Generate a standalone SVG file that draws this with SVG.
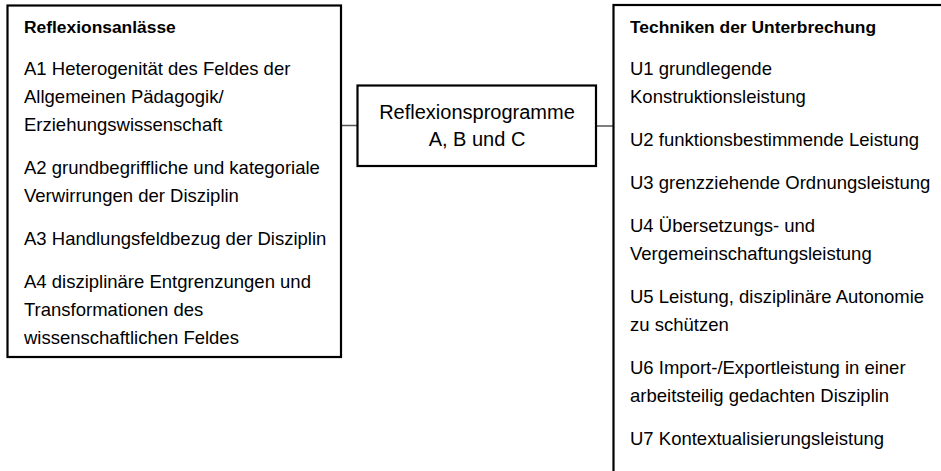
<svg xmlns="http://www.w3.org/2000/svg" width="941" height="471" viewBox="0 0 941 471">
<style>
.box{fill:#fff;stroke:#000;stroke-width:2.2}
.t{font-family:"Liberation Sans",Arial,sans-serif;font-size:18.5px;fill:#000}
.b{font-family:"Liberation Sans",Arial,sans-serif;font-size:17.4px;font-weight:bold;fill:#000}
.m{font-family:"Liberation Sans",Arial,sans-serif;font-size:20px;fill:#000;text-anchor:middle}
.c{stroke:#555;stroke-width:1.5;fill:none}
</style>
<rect width="941" height="471" fill="#fff"/>
<g id="connectors">
<line class="c" x1="341" y1="125.5" x2="357" y2="125.5"/>
<line class="c" x1="596" y1="126" x2="613" y2="126"/>
</g>
<g id="reflexionsanlaesse">
<rect class="box" x="7.5" y="5.5" width="333.5" height="351.5"/>
<text class="b" x="24" y="33">Reflexionsanlässe</text>
<text class="t" x="24" y="75">A1 Heterogenität des Feldes der</text>
<text class="t" x="24" y="103">Allgemeinen Pädagogik/</text>
<text class="t" x="24" y="131">Erziehungswissenschaft</text>
<text class="t" x="24" y="174">A2 grundbegriffliche und kategoriale</text>
<text class="t" x="24" y="202">Verwirrungen der Disziplin</text>
<text class="t" x="24" y="245">A3 Handlungsfeldbezug der Disziplin</text>
<text class="t" x="24" y="288">A4 disziplinäre Entgrenzungen und</text>
<text class="t" x="24" y="316">Transformationen des</text>
<text class="t" x="24" y="344">wissenschaftlichen Feldes</text>
</g>
<g id="reflexionsprogramme">
<rect class="box" x="357.5" y="85.5" width="238.5" height="80.5"/>
<text class="m" x="477" y="119">Reflexionsprogramme</text>
<text class="m" x="477" y="146">A, B und C</text>
</g>
<g id="techniken">
<rect class="box" x="613.5" y="5" width="340" height="480"/>
<text class="b" x="630" y="33">Techniken der Unterbrechung</text>
<text class="t" x="630" y="75">U1 grundlegende</text>
<text class="t" x="630" y="103">Konstruktionsleistung</text>
<text class="t" x="630" y="146">U2 funktionsbestimmende Leistung</text>
<text class="t" x="630" y="189">U3 grenzziehende Ordnungsleistung</text>
<text class="t" x="630" y="232">U4 Übersetzungs- und</text>
<text class="t" x="630" y="260">Vergemeinschaftungsleistung</text>
<text class="t" x="630" y="303">U5 Leistung, disziplinäre Autonomie</text>
<text class="t" x="630" y="331">zu schützen</text>
<text class="t" x="630" y="374">U6 Import-/Exportleistung in einer</text>
<text class="t" x="630" y="402">arbeitsteilig gedachten Disziplin</text>
<text class="t" x="630" y="445">U7 Kontextualisierungsleistung</text>
</g>
</svg>
